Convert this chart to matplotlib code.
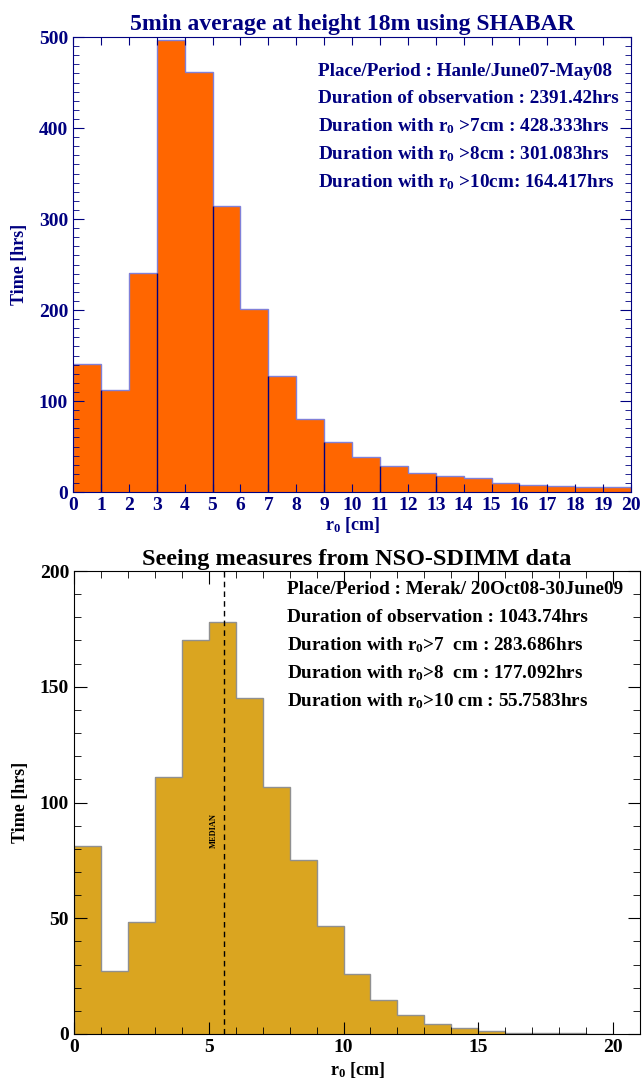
import matplotlib
matplotlib.use('Agg')
from matplotlib import pyplot as plt
from matplotlib.ticker import MultipleLocator
import numpy as np

plt.rcParams['font.family'] = ['Liberation Serif', 'DejaVu Serif']
plt.rcParams['font.weight'] = 'bold'
plt.rcParams['axes.labelweight'] = 'bold'
plt.rcParams['axes.titleweight'] = 'bold'
plt.rcParams['mathtext.fontset'] = 'custom'
plt.rcParams['mathtext.rm'] = 'Liberation Serif:bold'
plt.rcParams['mathtext.default'] = 'rm'

# 上图: Hanle SHABAR, 每1cm一个bin
edges = np.arange(0, 21)
hanle_hrs = [141, 112, 241, 497, 461, 314, 201, 127, 80, 55,
             39, 29, 21, 18, 15, 10, 8, 7, 6, 5]
hanle_text = ['Place/Period : Hanle/June07-May08',
              'Duration of observation : 2391.42hrs',
              'Duration with r$_0$ >7cm : 428.333hrs',
              'Duration with r$_0$ >8cm : 301.083hrs',
              'Duration with r$_0$ >10cm: 164.417hrs']

# 下图: Merak NSO-SDIMM
merak_hrs = [81, 27, 48.5, 111, 170, 178, 145, 106.5, 75, 46.5,
             26, 14.5, 8, 4.3, 2.5, 1.3, 0.6, 0.4, 0.3, 0.2]
merak_median = 5.55
merak_text = ['Place/Period : Merak/ 20Oct08-30June09',
              'Duration of observation : 1043.74hrs',
              'Duration with r$_0$>7  cm : 283.686hrs',
              'Duration with r$_0$>8  cm : 177.092hrs',
              'Duration with r$_0$>10 cm : 55.7583hrs']

navy = '#000080'
W, H = 642, 1084
fig = plt.figure(figsize=(W / 100, H / 100), dpi=100)

# ---------- 上图 ----------
ax = fig.add_axes([73 / W, 1 - 492 / H, (631 - 73) / W, (492 - 37) / H])
ax.bar(edges[:-1], hanle_hrs, width=1, align='edge', color='#ff6600', lw=0)
ax.stairs(hanle_hrs, edges, color='#8080d8', lw=1)
h = np.array(hanle_hrs)
odd = edges[1:14:2]
ax.vlines(odd, 0, np.minimum(h[odd - 1], h[odd]), color=navy, lw=1)
ax.set_xlim(0, 20)
ax.set_ylim(0, 500)
ax.xaxis.set_major_locator(MultipleLocator(1))
ax.yaxis.set_major_locator(MultipleLocator(100))
ax.yaxis.set_minor_locator(MultipleLocator(10))
ax.tick_params(which='both', direction='in', top=True, right=True, color=navy,
               labelcolor=navy, labelsize=14)
ax.tick_params(which='major', length=8)
ax.tick_params(axis='x', which='major', length=6)
ax.tick_params(which='minor', length=4)
for s in ax.spines.values():
    s.set_color(navy)
ax.set_title('5min average at height 18m using SHABAR', color=navy, fontsize=17,
             pad=5)
ax.set_xlabel('r$_0$ [cm]', color=navy, fontsize=13, labelpad=1)
ax.set_ylabel('Time [hrs]', color=navy, fontsize=13, labelpad=8)
for i, t in enumerate(hanle_text):
    ax.text(318 / W, 1 - (71 + 27.7 * i) / H, t, transform=fig.transFigure,
            color=navy, fontsize=13.8, va='center', ha='left')

# ---------- 下图 ----------
ax2 = fig.add_axes([74 / W, 1 - 1034 / H, (640 - 74) / W, (1034 - 571) / H])
ax2.bar(edges[:-1], merak_hrs, width=1, align='edge', color='#daa520', lw=0)
ax2.stairs(merak_hrs, edges, color='#909090', lw=1)
ax2.axvline(merak_median, color='black', ls=(0, (4, 3)), lw=1)
ax2.text(merak_median - 0.35, 88, 'MEDIAN', rotation=90, fontsize=6,
         ha='center', va='center', color='black')
ax2.set_xlim(0, 21)
ax2.set_ylim(0, 200)
ax2.xaxis.set_major_locator(MultipleLocator(5))
ax2.xaxis.set_minor_locator(MultipleLocator(1))
ax2.yaxis.set_major_locator(MultipleLocator(50))
ax2.yaxis.set_minor_locator(MultipleLocator(10))
ax2.tick_params(which='both', direction='in', top=True, right=True, labelsize=14)
ax2.tick_params(which='major', length=9)
ax2.tick_params(which='minor', length=5)
ax2.set_title('Seeing measures from NSO-SDIMM data', fontsize=17.5, pad=4)
ax2.set_xlabel('r$_0$ [cm]', fontsize=13, labelpad=3)
ax2.set_ylabel('Time [hrs]', fontsize=13, labelpad=8)
for i, t in enumerate(merak_text):
    ax2.text(287 / W, 1 - (589 + 28 * i) / H, t, transform=fig.transFigure,
             color='black', fontsize=13.8, va='center', ha='left')

plt.savefig('out.png', dpi=100)
